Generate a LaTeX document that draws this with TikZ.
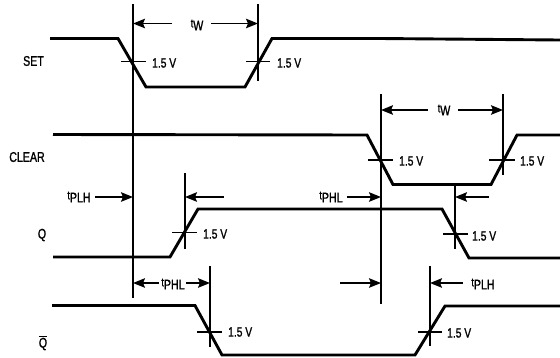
\documentclass[tikz,border=0pt]{standalone}
\usepackage{fontspec}
\setmainfont{Liberation Sans}[FakeStretch=0.76,FakeBold=1.2]
\usetikzlibrary{arrows.meta}
\newcommand{\tsub}[1]{{\fontsize{12}{12}\selectfont t}\raisebox{-3pt}{#1}}
\tikzset{
  wave/.style={line width=2.9pt,miter limit=10,line join=miter,black},
  vline/.style={line width=1.9pt,black},
  tick/.style={line width=1.4pt,black},
  dim/.style={line width=1.4pt,black,-{Stealth[length=12pt,width=9.5pt,inset=2pt]}},
  lab/.style={font=\fontsize{14}{14}\selectfont,inner sep=0pt,text=black},
  vlt/.style={font=\fontsize{13.5}{14}\selectfont,inner sep=0pt,anchor=west,text=black},
  tl/.style={font=\fontsize{14}{14}\selectfont,inner sep=0pt,text=black}
}
\begin{document}
\begin{tikzpicture}[x=1pt,y=-1pt]
\useasboundingbox (0,0) rectangle (560,357);
% waveforms
\draw[wave] (50,38.5) -- (118,38.5) -- (146,87) -- (245,87) -- (272,38.5) -- (380,38.5) -- (560,40);
\draw[wave] (53,134.5) -- (367,135) -- (393,184.5) -- (491,184.5) -- (517,135) -- (560,135);
\draw[wave] (53,257) -- (170,257) -- (198,209) -- (442,209) -- (469,258) -- (560,258);
\draw[wave] (52,305.5) -- (195,305.5) -- (222,355) -- (415,355) -- (445,306) -- (560,306);
% vertical reference lines
\coordinate (v1t) at (133,4);  \coordinate (v1b) at (133,298);
\coordinate (v2t) at (258,4);    \coordinate (v2b) at (258,81);
\coordinate (v3t) at (381,94); \coordinate (v3b) at (381,304);
\coordinate (v4t) at (503,94);   \coordinate (v4b) at (503,175);
\coordinate (v5t) at (185,173);  \coordinate (v5b) at (185,249);
\coordinate (v6t) at (455,185);  \coordinate (v6b) at (455,249);
\coordinate (v7t) at (210,266);  \coordinate (v7b) at (210,347);
\coordinate (v8t) at (430,266);  \coordinate (v8b) at (430,346);
\foreach \v in {1,...,8} \draw[vline] (v\v t) -- (v\v b);
% 1.5 V crossing ticks
\draw[tick] (121,61.5) -- (146,61.5);
\draw[tick] (246,61.5) -- (270,61.5);
\draw[tick] (368,160) -- (393,160);
\draw[tick] (489,160) -- (515,160);
\draw[tick] (172,232.5) -- (197,232.5);
\draw[tick] (443,234) -- (468,234);
\draw[tick] (197,332) -- (222,332);
\draw[tick] (418,332) -- (442,332);
% voltage labels
\node[vlt] (a1) at (152,63) {1.5 V};
\node[vlt] (a2) at (277,63) {1.5 V};
\node[vlt] (a3) at (399,161) {1.5 V};
\node[vlt] (a4) at (520,161) {1.5 V};
\node[vlt] (a5) at (203,234) {1.5 V};
\node[vlt] (a6) at (472,236) {1.5 V};
\node[vlt] (a7) at (228,332) {1.5 V};
\node[vlt] (a8) at (447,333) {1.5 V};
% signal labels
\node[lab] (set) at (33.5,61) {SET};
\node[lab] (clear) at (27,157) {CLEAR};
\node[lab] (q) at (42,235) {Q};
\node[lab] (qb) at (43,343) {$\overline{\mbox{Q}}$};
% timing labels
\node[tl] (tw1) at (197,25) {\tsub{W}};
\node[tl] (tw2) at (444,110) {\tsub{W}};
\node[tl] (t1) at (79,197) {\tsub{PLH}};
\node[tl] (t2) at (173,284) {\tsub{PHL}};
\node[tl] (t3) at (331,197) {\tsub{PHL}};
\node[tl] (t4) at (483,284) {\tsub{PLH}};
% dimension arrows
\coordinate (d1a) at (133,23.5); \coordinate (d1b) at (258,23.5);
\coordinate (d2a) at (381,110);  \coordinate (d2b) at (503,110);
\coordinate (d3) at (133,197);   \coordinate (d4) at (185,197);
\coordinate (d5) at (381,197);   \coordinate (d6) at (455,197);
\coordinate (d7) at (133,283);   \coordinate (d8) at (210,283);
\coordinate (d9) at (381,283);   \coordinate (d10) at (430,283);
\coordinate (f1) at (172,23.5);  \coordinate (f2) at (211,23.5);
\coordinate (f3) at (428,110);   \coordinate (f4) at (458,110);
\coordinate (f5) at (95,197);    \coordinate (f6) at (224,197);
\coordinate (f7) at (347,197);   \coordinate (f8) at (489,197);
\coordinate (f9) at (159,283);   \coordinate (f10) at (186,283);
\coordinate (f11) at (340,283);  \coordinate (f12) at (463,283);
\draw[dim] (f1) -- (d1a);
\draw[dim] (f2) -- (d1b);
\draw[dim] (f3) -- (d2a);
\draw[dim] (f4) -- (d2b);
\draw[dim] (f5) -- (d3);
\draw[dim] (f6) -- (d4);
\draw[dim] (f7) -- (d5);
\draw[dim] (f8) -- (d6);
\draw[dim] (f9) -- (d7);
\draw[dim] (f10) -- (d8);
\draw[dim] (f11) -- (d9);
\draw[dim] (f12) -- (d10);
\end{tikzpicture}
\end{document}
